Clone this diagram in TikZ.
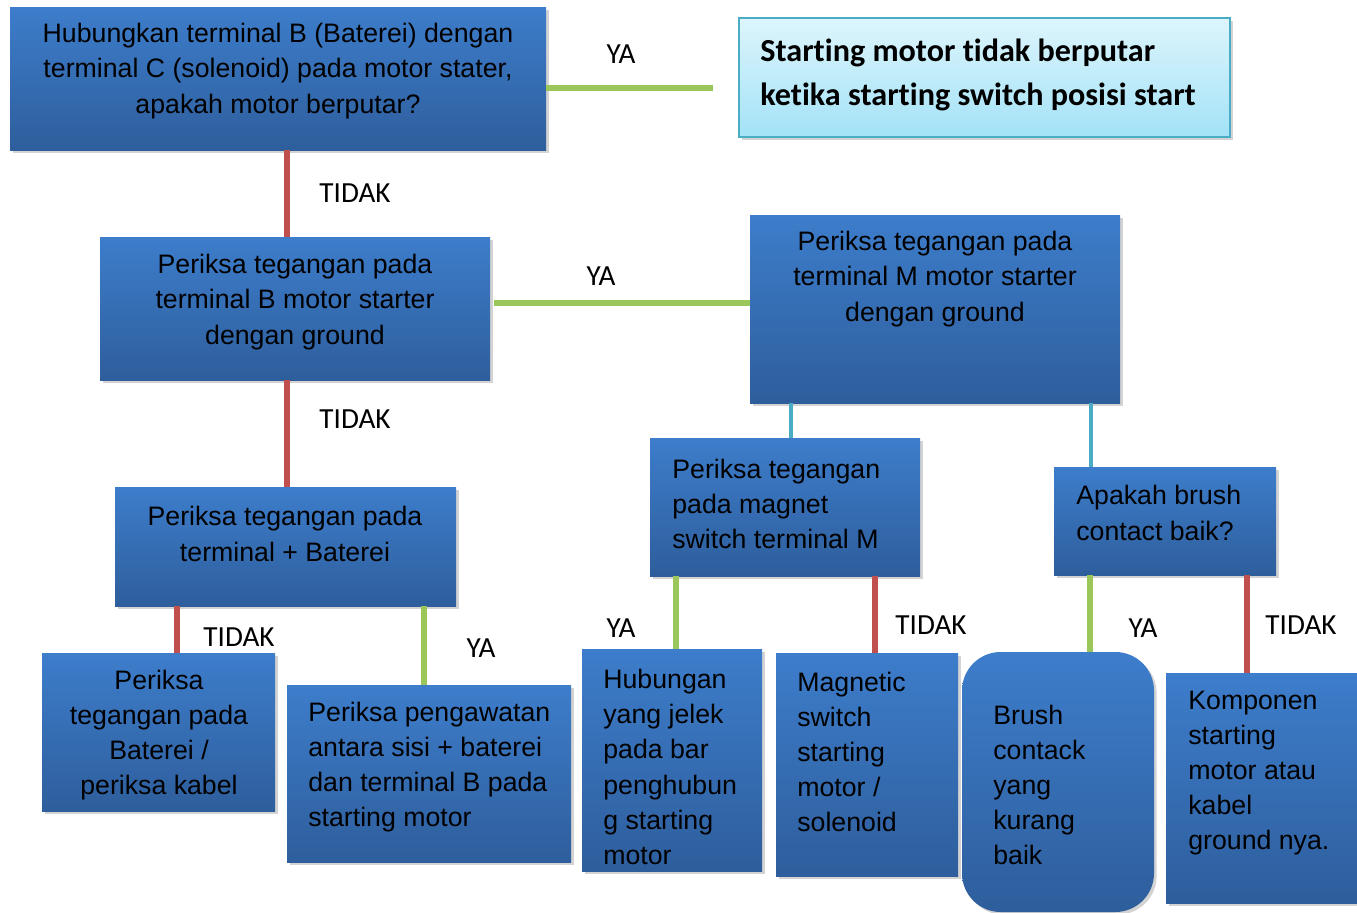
\documentclass[tikz,border=0pt]{standalone}
\usepackage{fontspec}
\setmainfont{Liberation Sans}
\newfontfamily\calib[Ligatures=NoCommon]{Carlito}
\usetikzlibrary{fit,shadows}
\definecolor{boxtop}{HTML}{3D7DCB}
\definecolor{boxbot}{HTML}{2E5E9C}
\definecolor{ttop}{HTML}{DDF5FC}
\definecolor{tbot}{HTML}{A3E2F7}
\definecolor{tborder}{HTML}{4BACC6}
\definecolor{gline}{HTML}{9BC65A}
\definecolor{rline}{HTML}{C0504D}
\definecolor{cline}{HTML}{4BACC6}
\tikzset{
  box/.style={rectangle, inner sep=0pt, draw=none, top color=boxtop, bottom color=boxbot,
    drop shadow={shadow xshift=1.5pt, shadow yshift=-1.5pt, opacity=0.35}},
  rbox/.style={box, rounded corners=22pt},
  titlebox/.style={rectangle, inner sep=0pt, draw=tborder, line width=1.3pt, top color=ttop, bottom color=tbot,
    drop shadow={shadow xshift=1.5pt, shadow yshift=-1.5pt, opacity=0.35}},
  txt/.style={inner sep=0pt, font=\fontsize{15.2}{20}\selectfont, text=black},
  ctxt/.style={txt, align=center, anchor=center},
  ltxt/.style={txt, align=left, anchor=west},
  ttxt/.style={inner sep=0pt, font=\calib\bfseries\fontsize{18.3}{25}\selectfont, align=left, anchor=west},
  lbl/.style={inner sep=0pt, font=\calib\fontsize{16.6}{19}\selectfont},
  gcon/.style={draw=gline, line width=2.9pt},
  rcon/.style={draw=rline, line width=3.3pt},
  ccon/.style={draw=cline, line width=2.7pt},
}
\begin{document}
\begin{tikzpicture}[x=0.02cm, y=-0.02cm]
\useasboundingbox (0,0) rectangle (1357,913);
% boxes
\node[box, fit={(10,7) (546,150)}] (b1) {};
\node[titlebox, fit={(739,18) (1230,137)}] (tb) {};
\node[box, fit={(100,237) (490,380)}] (bB) {};
\node[box, fit={(750,215) (1120,403)}] (bM) {};
\node[box, fit={(115,487) (456,606)}] (bBat) {};
\node[box, fit={(650,438) (920,576)}] (bMag) {};
\node[box, fit={(1054,467) (1276,575)}] (bBr) {};
\node[box, fit={(42,653) (275,811)}] (r1) {};
\node[box, fit={(287,685) (571,862)}] (r2) {};
\node[box, fit={(582,649) (762,871)}] (r3) {};
\node[box, fit={(776,653) (958,876)}] (r4) {};
\node[rbox, fit={(962,652) (1154,912)}] (r5) {};
\node[box, fit={(1166,673) (1357,903)}] (r6) {};
% texts
\node[ctxt] (t1) at (278,71) {Hubungkan terminal B (Baterei) dengan\\terminal C (solenoid) pada motor stater,\\apakah motor berputar?};
\node[ttxt] (tt) at (760,75) {Starting motor tidak berputar\\ketika starting switch posisi start};
\node[ctxt] (tB) at (295,302) {Periksa tegangan pada\\terminal B motor starter\\dengan ground};
\node[ctxt] (tM) at (935,279) {Periksa tegangan pada\\terminal M motor starter\\dengan ground};
\node[ctxt] (tBat) at (285,534) {Periksa tegangan pada\\terminal + Baterei};
\node[ltxt] (tMag) at (672,504) {Periksa tegangan\\pada magnet\\switch terminal M};
\node[ltxt] (tBr) at (1076,513) {Apakah brush\\contact baik?};
\node[ctxt] (tr1) at (159,735) {Periksa\\tegangan pada\\Baterei /\\periksa kabel};
\node[ltxt] (tr2) at (308,767) {Periksa pengawatan\\antara sisi + baterei\\dan terminal B pada\\starting motor};
\node[ltxt] (tr3) at (603,767) {Hubungan\\yang jelek\\pada bar\\penghubun\\g starting\\motor};
\node[ltxt] (tr4) at (797,752) {Magnetic\\switch\\starting\\motor /\\solenoid};
\node[ltxt] (tr5) at (993,785) {Brush\\contack\\yang\\kurang\\baik};
\node[ltxt] (tr6) at (1188,773) {Komponen\\starting\\motor atau\\kabel\\ground nya.};
% connectors
\coordinate (gEnd) at (713,88);
\draw[gcon] (b1.east |- 0,88) -- (gEnd);
\draw[rcon] (b1.south -| 287,0) -- (bB.north -| 287,0);
\draw[gcon] ([xshift=4*0.02cm]bB.east |- 0,303) -- (bM.west |- 0,303);
\draw[rcon] (bB.south -| 287,0) -- (bBat.north -| 287,0);
\draw[rcon] (bBat.south -| 177,0) -- (r1.north -| 177,0);
\draw[gcon] (bBat.south -| 424,0) -- (r2.north -| 424,0);
\draw[ccon] (bM.south -| 791,0) -- (bMag.north -| 791,0);
\draw[ccon] (bM.south -| 1091,0) -- (bBr.north -| 1091,0);
\draw[gcon] (bMag.south -| 676,0) -- (r3.north -| 676,0);
\draw[rcon] (bMag.south -| 875,0) -- (r4.north -| 875,0);
\draw[gcon] (bBr.south -| 1090,0) -- (r5.north -| 1090,0);
\draw[rcon] (bBr.south -| 1247,0) -- (r6.north -| 1247,0);
% labels
\node[lbl] (l1) at (621,54) {YA};
\node[lbl] (l2) at (355,193) {TIDAK};
\node[lbl] (l3) at (601,276) {YA};
\node[lbl] (l4) at (355,419) {TIDAK};
\node[lbl] (l5) at (239,637) {TIDAK};
\node[lbl] (l6) at (481,648) {YA};
\node[lbl] (l7) at (621,628) {YA};
\node[lbl] (l8) at (931,625) {TIDAK};
\node[lbl] (l9) at (1143,628) {YA};
\node[lbl] (l10) at (1301,625) {TIDAK};
\end{tikzpicture}
\end{document}
